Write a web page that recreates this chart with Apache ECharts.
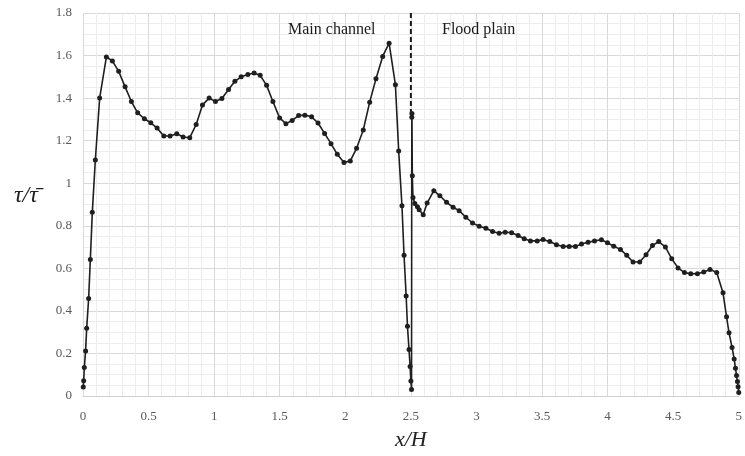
<!DOCTYPE html>
<html>
<head>
<meta charset="utf-8">
<script src="https://cdn.jsdelivr.net/npm/echarts@6/dist/echarts.min.js"></script>
<style>
    html, body { margin: 0; padding: 0; background: #fff; }
    #chart { width: 745px; height: 456px; }
</style>
</head>
<body>
<div id="chart"></div>
<script>
// x/H positions and tau/tau-bar values
let mainChannel = [
    [0.002, 0.042], [0.005, 0.072], [0.01, 0.134], [0.02, 0.212], [0.028, 0.318], [0.043, 0.458],
    [0.056, 0.642], [0.071, 0.863], [0.094, 1.109], [0.127, 1.40], [0.178, 1.593], [0.224, 1.575],
    [0.272, 1.526], [0.321, 1.453], [0.369, 1.384], [0.417, 1.331], [0.468, 1.303], [0.517, 1.284],
    [0.565, 1.259], [0.616, 1.222], [0.664, 1.222], [0.715, 1.233], [0.763, 1.217], [0.814, 1.214],
    [0.863, 1.276], [0.911, 1.368], [0.962, 1.40], [1.01, 1.384], [1.059, 1.398], [1.11, 1.44],
    [1.158, 1.479], [1.206, 1.50], [1.257, 1.511], [1.305, 1.518], [1.351, 1.507], [1.40, 1.46],
    [1.448, 1.384], [1.499, 1.307], [1.547, 1.28], [1.595, 1.295], [1.644, 1.318], [1.692, 1.32],
    [1.743, 1.312], [1.792, 1.283], [1.842, 1.234], [1.891, 1.186], [1.939, 1.136], [1.99, 1.097],
    [2.038, 1.105], [2.086, 1.164], [2.137, 1.25], [2.186, 1.381], [2.234, 1.491], [2.285, 1.596],
    [2.334, 1.658], [2.382, 1.463], [2.407, 1.152], [2.432, 0.894], [2.448, 0.661], [2.464, 0.47],
    [2.474, 0.328], [2.486, 0.218], [2.494, 0.139], [2.5, 0.071], [2.505, 0.03]
];
let floodPlain = [
    [2.507, 1.31], [2.508, 1.328], [2.511, 1.035], [2.516, 0.933], [2.53, 0.905], [2.55, 0.89],
    [2.563, 0.875], [2.594, 0.852], [2.624, 0.907], [2.675, 0.965], [2.721, 0.941], [2.772, 0.91],
    [2.822, 0.887], [2.868, 0.871], [2.919, 0.84], [2.97, 0.813], [3.021, 0.798], [3.072, 0.788],
    [3.123, 0.773], [3.173, 0.765], [3.219, 0.77], [3.268, 0.767], [3.318, 0.754], [3.364, 0.739],
    [3.412, 0.729], [3.463, 0.729], [3.508, 0.735], [3.559, 0.726], [3.61, 0.711], [3.661, 0.703],
    [3.707, 0.703], [3.755, 0.703], [3.801, 0.714], [3.851, 0.723], [3.90, 0.729], [3.953, 0.734],
    [3.999, 0.72], [4.047, 0.704], [4.098, 0.689], [4.146, 0.661], [4.194, 0.63], [4.245, 0.63],
    [4.293, 0.664], [4.342, 0.707], [4.39, 0.726], [4.441, 0.70], [4.489, 0.645], [4.537, 0.602],
    [4.586, 0.58], [4.634, 0.574], [4.685, 0.575], [4.733, 0.583], [4.781, 0.595], [4.832, 0.58],
    [4.88, 0.485], [4.907, 0.372], [4.926, 0.297], [4.949, 0.228], [4.965, 0.174], [4.975, 0.131],
    [4.983, 0.096], [4.99, 0.068], [4.995, 0.044], [5.0, 0.016]
];
let dividerLine = [[2.5, 1.8], [2.5, 1.33]];
let regionLabels = ["Main channel", "Flood plain"];

let serif = "'Liberation Serif', 'DejaVu Serif', serif";
let profile = mainChannel.concat(floodPlain);

let chart = echarts.init(document.getElementById("chart"));

let option = {
    animation: false,
    backgroundColor: "#fff",
    grid: { left: 83, right: 6, top: 13, bottom: 58 },
    xAxis: {
        type: "value",
        min: 0,
        max: 5,
        interval: 0.5,
        name: "x/H",
        nameLocation: "middle",
        nameGap: 33,
        nameTextStyle: { fontFamily: serif, fontStyle: "italic", fontSize: 22, color: "#222" },
        axisLine: { show: true, lineStyle: { color: "#d0d0d0", width: 1 } },
        axisTick: { show: false },
        axisLabel: { fontFamily: serif, fontSize: 13, color: "#595959", margin: 14 },
        splitLine: { show: true, lineStyle: { color: "#d9d9d9", width: 1 } },
        minorTick: { show: false, splitNumber: 5 },
        minorSplitLine: { show: true, lineStyle: { color: "#ededed", width: 1 } }
    },
    yAxis: {
        type: "value",
        min: 0,
        max: 1.8,
        interval: 0.2,
        axisLine: { show: false },
        axisTick: { show: false },
        axisLabel: {
            fontFamily: serif, fontSize: 13, color: "#595959", margin: 11,
            formatter: function (v) { return +v.toFixed(1) + ""; }
        },
        splitLine: { show: true, lineStyle: { color: "#d9d9d9", width: 1 } },
        minorTick: { show: false, splitNumber: 4 },
        minorSplitLine: { show: true, lineStyle: { color: "#ededed", width: 1 } }
    },
    graphic: [
        {
            type: "text", left: 14, top: 184, z: 100,
            style: { text: "τ/τ\u0304", fontFamily: serif, fontStyle: "italic", fontSize: 24, fill: "#222" }
        },
        {
            type: "text", left: 288, top: 22, z: 100,
            style: { text: regionLabels[0], fontFamily: serif, fontSize: 16, fill: "#1a1a1a" }
        },
        {
            type: "text", left: 442, top: 22, z: 100,
            style: { text: regionLabels[1], fontFamily: serif, fontSize: 16, fill: "#1a1a1a" }
        }
    ],
    series: [
        {
            type: "line",
            data: dividerLine,
            symbol: "none",
            lineStyle: { color: "#1a1a1a", width: 2, type: [5, 3] },
            z: 3
        },
        {
            type: "line",
            data: profile,
            symbol: "circle",
            symbolSize: 5,
            itemStyle: { color: "#1f1f1f" },
            lineStyle: { color: "#1f1f1f", width: 1.6 },
            z: 4
        }
    ]
};

chart.setOption(option);
</script>
</body>
</html>
